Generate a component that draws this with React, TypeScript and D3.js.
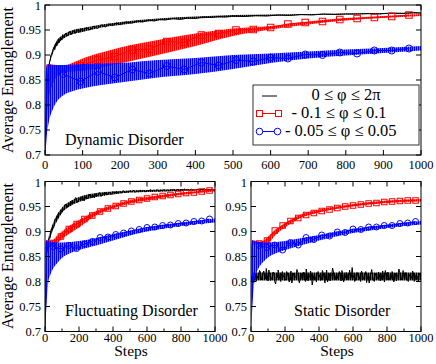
import React from 'react';
import * as d3 from 'd3';

// shared x grid for the envelopes, and marker positions
const BAND_STEPS = [0, 2, 5, 10, 20, 30, 50, 75, 100, 150, 200, 300, 400, 500, 600, 700, 800, 900, 1000];
const MARK_STEPS = [48, 94, 140, 186, 232, 278, 324, 370, 416, 462, 508, 554, 600, 646, 692, 738, 784, 830, 876, 922, 968];

const Y_TICKS = [0.7, 0.75, 0.8, 0.85, 0.9, 0.95, 1];
const Y_TICK_LABELS = ['0.7', '0.75', '0.8', '0.85', '0.9', '0.95', '1'];
const TOP_X_TICKS = [0, 100, 200, 300, 400, 500, 600, 700, 800, 900, 1000];
const BOTTOM_X_TICKS = [0, 200, 400, 600, 800, 1000];
const BOTTOM_X_MINOR = [100, 300, 500, 700, 900];

const LEGEND_LABELS = ['0 ≤ φ ≤ 2π', '- 0.1 ≤ φ ≤ 0.1', '- 0.05 ≤ φ ≤ 0.05'];

// ---- Dynamic disorder ----
const dynBlack: [number, number][] = [
  [0, 0.70], [2, 0.77], [4, 0.81], [6, 0.84], [8, 0.862], [10, 0.874], [12, 0.886], [14, 0.89], [16, 0.899],
  [18, 0.903], [20, 0.906], [23, 0.915], [26, 0.911], [29, 0.924], [32, 0.919], [35, 0.931], [38, 0.925],
  [41, 0.936], [44, 0.93], [47, 0.941], [50, 0.935], [55, 0.944], [60, 0.938], [65, 0.947], [70, 0.941],
  [75, 0.949], [80, 0.943], [85, 0.951], [90, 0.945], [95, 0.953], [100, 0.948], [110, 0.955], [120, 0.95],
  [130, 0.958], [140, 0.953], [150, 0.96], [160, 0.956], [170, 0.962], [180, 0.959], [190, 0.964], [200, 0.961],
  [215, 0.966], [230, 0.964], [245, 0.968], [260, 0.966], [275, 0.97], [290, 0.968], [305, 0.971], [320, 0.97],
  [340, 0.973], [360, 0.971], [380, 0.974], [400, 0.973], [420, 0.976], [440, 0.975], [460, 0.977], [480, 0.976],
  [500, 0.978], [530, 0.977], [560, 0.979], [590, 0.978], [620, 0.98], [650, 0.979], [680, 0.981], [710, 0.98],
  [740, 0.982], [770, 0.981], [800, 0.982], [830, 0.982], [860, 0.983], [890, 0.982], [920, 0.984], [950, 0.983],
  [980, 0.985], [1000, 0.984],
];
const dynBlackLo = [0.70, 0.765, 0.825, 0.87, 0.901, 0.917, 0.933, 0.942, 0.946, 0.955, 0.96, 0.969, 0.973, 0.976, 0.978, 0.98, 0.981, 0.982, 0.983];
const dynBlackHi = [0.70, 0.775, 0.835, 0.878, 0.91, 0.927, 0.941, 0.95, 0.954, 0.961, 0.966, 0.973, 0.977, 0.98, 0.981, 0.982, 0.983, 0.984, 0.985];
const dynRedLo = [0.70, 0.72, 0.77, 0.81, 0.84, 0.855, 0.865, 0.867, 0.868, 0.875, 0.883, 0.9, 0.918, 0.938, 0.951, 0.961, 0.969, 0.974, 0.978];
const dynRedHi = [0.70, 0.86, 0.882, 0.882, 0.881, 0.88, 0.879, 0.885, 0.893, 0.905, 0.915, 0.93, 0.943, 0.953, 0.958, 0.967, 0.974, 0.978, 0.982];
const dynRedMarks = [0.872, 0.878, 0.89, 0.897, 0.91, 0.912, 0.927, 0.925, 0.94, 0.943, 0.95, 0.951, 0.955, 0.962, 0.965, 0.967, 0.971, 0.973, 0.975, 0.977, 0.98];
const dynBlueLo = [0.70, 0.71, 0.74, 0.765, 0.79, 0.805, 0.82, 0.828, 0.833, 0.84, 0.845, 0.855, 0.862, 0.872, 0.884, 0.893, 0.899, 0.904, 0.909];
const dynBlueHi = [0.70, 0.86, 0.88, 0.881, 0.88, 0.88, 0.88, 0.881, 0.882, 0.883, 0.884, 0.89, 0.894, 0.9, 0.903, 0.907, 0.911, 0.914, 0.918];
const dynBlueMarks = [0.862, 0.847, 0.867, 0.855, 0.871, 0.863, 0.878, 0.871, 0.885, 0.879, 0.89, 0.887, 0.895, 0.893, 0.901, 0.9, 0.905, 0.903, 0.909, 0.909, 0.913];

// ---- Fluctuating disorder ----
const NOISE_STEPS = d3.range(0, 1001, 10);
const flucBlack = [
  0.700, 0.855, 0.884, 0.889, 0.907, 0.907, 0.925, 0.925, 0.938, 0.933,
  0.944, 0.943, 0.955, 0.948, 0.957, 0.951, 0.962, 0.957, 0.968, 0.958,
  0.966, 0.962, 0.971, 0.961, 0.970, 0.965, 0.975, 0.967, 0.974, 0.967,
  0.976, 0.971, 0.978, 0.970, 0.977, 0.972, 0.979, 0.973, 0.978, 0.974,
  0.980, 0.975, 0.981, 0.976, 0.980, 0.977, 0.982, 0.977, 0.981, 0.978,
  0.982, 0.979, 0.983, 0.978, 0.982, 0.979, 0.983, 0.980, 0.982, 0.979,
  0.983, 0.980, 0.984, 0.980, 0.983, 0.981, 0.984, 0.980, 0.983, 0.981,
  0.984, 0.981, 0.983, 0.981, 0.984, 0.982, 0.984, 0.981, 0.984, 0.982,
  0.984, 0.982, 0.985, 0.982, 0.984, 0.982, 0.985, 0.982, 0.984, 0.983,
  0.985, 0.982, 0.984, 0.983, 0.985, 0.982, 0.984, 0.983, 0.985, 0.982,
  0.984,
];
const flucBlackLo = [0.70, 0.75, 0.79, 0.845, 0.87, 0.885, 0.906, 0.923, 0.937, 0.951, 0.959, 0.969, 0.974, 0.978, 0.979, 0.98, 0.981, 0.982, 0.982];
const flucBlackHi = [0.70, 0.77, 0.81, 0.862, 0.886, 0.9, 0.919, 0.936, 0.948, 0.961, 0.969, 0.977, 0.98, 0.982, 0.983, 0.984, 0.985, 0.985, 0.985];
const flucRedLo = [0.70, 0.75, 0.84, 0.862, 0.868, 0.868, 0.87, 0.877, 0.885, 0.897, 0.908, 0.932, 0.946, 0.956, 0.962, 0.968, 0.973, 0.977, 0.98];
const flucRedHi = [0.70, 0.86, 0.882, 0.883, 0.882, 0.881, 0.884, 0.893, 0.9, 0.913, 0.923, 0.941, 0.953, 0.963, 0.969, 0.974, 0.978, 0.981, 0.985];
const flucRedMarks = [0.877, 0.89, 0.905, 0.915, 0.925, 0.932, 0.94, 0.946, 0.951, 0.956, 0.96, 0.963, 0.966, 0.969, 0.971, 0.973, 0.975, 0.977, 0.978, 0.98, 0.982];
const flucBlueLo = [0.70, 0.71, 0.73, 0.76, 0.80, 0.812, 0.827, 0.838, 0.847, 0.857, 0.863, 0.872, 0.882, 0.892, 0.9, 0.906, 0.911, 0.915, 0.918];
const flucBlueHi = [0.70, 0.86, 0.88, 0.882, 0.881, 0.88, 0.879, 0.878, 0.878, 0.879, 0.881, 0.887, 0.895, 0.902, 0.909, 0.914, 0.918, 0.922, 0.926];
const flucBlueMarks = [0.87, 0.865, 0.872, 0.866, 0.875, 0.88, 0.888, 0.889, 0.894, 0.897, 0.901, 0.904, 0.908, 0.909, 0.912, 0.913, 0.916, 0.917, 0.92, 0.921, 0.925];

// ---- Static disorder ----
const statBlack = [
  0.800,
  0.805, 0.818, 0.800, 0.812, 0.822, 0.803, 0.815, 0.808, 0.826, 0.801,
  0.814, 0.806, 0.819, 0.799, 0.811, 0.823, 0.804, 0.816, 0.809, 0.802,
  0.820, 0.807, 0.813, 0.797, 0.817, 0.810, 0.824, 0.803, 0.812, 0.806,
  0.819, 0.800, 0.815, 0.808, 0.821, 0.793, 0.813, 0.805, 0.818, 0.809,
  0.802, 0.822, 0.807, 0.814, 0.799, 0.816, 0.811, 0.827, 0.804, 0.812,
  0.806, 0.820, 0.801, 0.815, 0.809, 0.818, 0.803, 0.823, 0.808, 0.813,
  0.800, 0.817, 0.810, 0.805, 0.821, 0.807, 0.814, 0.798, 0.816, 0.811,
  0.824, 0.804, 0.812, 0.806, 0.819, 0.801, 0.815, 0.809, 0.822, 0.803,
  0.813, 0.807, 0.820, 0.799, 0.816, 0.810, 0.825, 0.805, 0.812, 0.808,
  0.818, 0.802, 0.814, 0.806, 0.821, 0.800, 0.813, 0.809, 0.817, 0.804,
];
// readings between the 10-step samples (steps 5, 15, ..., 995)
const statBlackMid = [
  0.811, 0.798, 0.816, 0.806, 0.803, 0.819, 0.809, 0.821, 0.805, 0.813,
  0.823, 0.802, 0.809, 0.817, 0.795, 0.807, 0.814, 0.800, 0.820, 0.811,
  0.806, 0.815, 0.799, 0.821, 0.804, 0.812, 0.808, 0.818, 0.797, 0.816,
  0.804, 0.812, 0.825, 0.801, 0.809, 0.815, 0.802, 0.811, 0.799, 0.820,
  0.813, 0.805, 0.817, 0.797, 0.823, 0.806, 0.801, 0.814, 0.819, 0.803,
  0.816, 0.808, 0.812, 0.822, 0.799, 0.807, 0.815, 0.805, 0.811, 0.828,
  0.808, 0.803, 0.818, 0.812, 0.800, 0.816, 0.804, 0.820, 0.807, 0.797,
  0.815, 0.810, 0.800, 0.817, 0.806, 0.813, 0.803, 0.821, 0.799, 0.812,
  0.819, 0.804, 0.806, 0.815, 0.809, 0.801, 0.813, 0.819, 0.803, 0.822,
  0.806, 0.815, 0.800, 0.811, 0.807, 0.818, 0.803, 0.812, 0.799, 0.814,
];
const statBlackLo = [0.81, 0.81, 0.805, 0.802, 0.802, 0.802, 0.802, 0.802, 0.802, 0.802, 0.802, 0.802, 0.802, 0.802, 0.802, 0.802, 0.802, 0.802, 0.802];
const statBlackHi = [0.81, 0.81, 0.815, 0.818, 0.818, 0.818, 0.818, 0.818, 0.818, 0.818, 0.818, 0.818, 0.818, 0.818, 0.818, 0.818, 0.818, 0.818, 0.818];
const statRedLo = [0.70, 0.75, 0.84, 0.87, 0.874, 0.874, 0.873, 0.872, 0.876, 0.895, 0.908, 0.928, 0.938, 0.945, 0.95, 0.954, 0.957, 0.959, 0.96];
const statRedHi = [0.70, 0.86, 0.882, 0.883, 0.882, 0.881, 0.88, 0.882, 0.89, 0.905, 0.917, 0.935, 0.944, 0.95, 0.955, 0.959, 0.962, 0.964, 0.965];
const statRedMarks = [0.876, 0.882, 0.902, 0.912, 0.921, 0.927, 0.933, 0.937, 0.941, 0.944, 0.947, 0.95, 0.952, 0.954, 0.956, 0.957, 0.959, 0.96, 0.961, 0.962, 0.962];
const statBlueLo = [0.70, 0.71, 0.73, 0.76, 0.80, 0.815, 0.83, 0.84, 0.848, 0.857, 0.863, 0.873, 0.882, 0.89, 0.897, 0.902, 0.907, 0.911, 0.914];
const statBlueHi = [0.70, 0.86, 0.88, 0.882, 0.881, 0.88, 0.879, 0.878, 0.878, 0.879, 0.881, 0.887, 0.893, 0.9, 0.905, 0.91, 0.914, 0.918, 0.921];
const statBlueMarks = [0.872, 0.868, 0.873, 0.863, 0.878, 0.873, 0.888, 0.884, 0.893, 0.891, 0.899, 0.898, 0.905, 0.904, 0.909, 0.909, 0.912, 0.912, 0.916, 0.917, 0.92];

const RED = '#ff0000';
const BLUE = '#0000ff';
const FONT = 'Liberation Serif, DejaVu Serif, serif';

const interleave = (a: number[], b: number[]): [number, number][] =>
  NOISE_STEPS.flatMap((s, i) =>
    i < b.length ? [[s, a[i]], [s + 5, b[i]]] as [number, number][] : [[s, a[i]]] as [number, number][]);

type PanelProps = {
  id: string;
  x0: number; x1: number; y0: number; y1: number;
  black: [number, number][]; blackLo: number[]; blackHi: number[];
  redLo: number[]; redHi: number[]; redMarks: number[];
  blueLo: number[]; blueHi: number[]; blueMarks: number[];
  title: string; titleX: number; titleY: number;
  xTicks: number[]; xMinor: number[]; labelGap: number;
  sq: number; r: number;
};

function Panel(p: PanelProps) {
  const x = d3.scaleLinear().domain([0, 1000]).range([p.x0, p.x1]);
  const y = d3.scaleLinear().domain([0.7, 1]).range([p.y1, p.y0]);
  const line = d3.line<[number, number]>().x(d => x(d[0])).y(d => y(d[1]));
  const band = (lo: number[], hi: number[]) =>
    d3.area<number>()
      .x((_, i) => x(BAND_STEPS[i]))
      .y0((_, i) => y(lo[i]))
      .y1((_, i) => y(hi[i]))
      .curve(d3.curveMonotoneX)(lo) || '';
  const markLine = (vals: number[]) => line(MARK_STEPS.map((s, i) => [s, vals[i]] as [number, number])) || '';

  return (
    <g>
      <defs>
        <clipPath id={`clip-${p.id}`}>
          <rect x={p.x0} y={p.y0} width={p.x1 - p.x0} height={p.y1 - p.y0} />
        </clipPath>
      </defs>
      <g clipPath={`url(#clip-${p.id})`}>
        <path d={band(p.blackLo, p.blackHi)} fill="url(#hatch-black)" />
        <path d={line(p.black) || ''} fill="none" stroke="#000" strokeWidth={1} />
        <path d={band(p.redLo, p.redHi)} fill="url(#hatch-red)" />
        <path d={markLine(p.redMarks)} fill="none" stroke={RED} strokeWidth={1} />
        {MARK_STEPS.map((s, i) => (
          <rect key={'r' + i} x={x(s) - p.sq / 2} y={y(p.redMarks[i]) - p.sq / 2} width={p.sq} height={p.sq}
            fill="none" stroke={RED} strokeWidth={1} />
        ))}
        <path d={band(p.blueLo, p.blueHi)} fill="url(#hatch-blue)" />
        <path d={markLine(p.blueMarks)} fill="none" stroke={BLUE} strokeWidth={1} />
        {MARK_STEPS.map((s, i) => (
          <circle key={'b' + i} cx={x(s)} cy={y(p.blueMarks[i])} r={p.r} fill="none" stroke={BLUE} strokeWidth={1} />
        ))}
      </g>
      <rect x={p.x0} y={p.y0} width={p.x1 - p.x0} height={p.y1 - p.y0} fill="none" stroke="#000" strokeWidth={1} />
      {Y_TICKS.map((t, i) => (
        <g key={'y' + i}>
          <line x1={p.x0} x2={p.x0 + 5} y1={y(t)} y2={y(t)} stroke="#000" />
          <line x1={p.x1} x2={p.x1 - 5} y1={y(t)} y2={y(t)} stroke="#000" />
          <text x={p.x0 - 4} y={y(t) + (t === 1 ? 1 : 0)} dy="0.35em" textAnchor="end" fontSize={12.5}>{Y_TICK_LABELS[i]}</text>
        </g>
      ))}
      {p.xTicks.map((t, i) => (
        <g key={'x' + i}>
          <line x1={x(t)} x2={x(t)} y1={p.y1} y2={p.y1 - 5} stroke="#000" />
          <line x1={x(t)} x2={x(t)} y1={p.y0} y2={p.y0 + 5} stroke="#000" />
          <text x={x(t)} y={p.y1 + p.labelGap} textAnchor="middle" fontSize={12.5}>{t}</text>
        </g>
      ))}
      {p.xMinor.map((t, i) => (
        <g key={'m' + i}>
          <line x1={x(t)} x2={x(t)} y1={p.y1} y2={p.y1 - 3} stroke="#000" />
          <line x1={x(t)} x2={x(t)} y1={p.y0} y2={p.y0 + 3} stroke="#000" />
        </g>
      ))}
      <text x={p.titleX} y={p.titleY} fontSize={16}>{p.title}</text>
    </g>
  );
}

function Legend() {
  const left = 253, top = 85, w = 166, h = 60;
  const rows = [100, 118, 136];
  const textX = [311.5, 291.5, 285];
  return (
    <g>
      <rect x={left} y={top} width={w} height={h} fill="#fff" stroke="#333" strokeWidth={1} />
      <line x1={262} x2={277} y1={96} y2={96} stroke="#000" strokeWidth={1} />
      <line x1={259} x2={279} y1={113.5} y2={113.5} stroke={RED} strokeWidth={1} />
      <rect x={256.5} y={110.5} width={6} height={6} fill="#fff" stroke={RED} />
      <rect x={275.5} y={110.5} width={6} height={6} fill="#fff" stroke={RED} />
      <line x1={259} x2={278} y1={131.5} y2={131.5} stroke={BLUE} strokeWidth={1} />
      <circle cx={259.5} cy={131.5} r={3.3} fill="#fff" stroke={BLUE} />
      <circle cx={277.5} cy={131.5} r={3.3} fill="#fff" stroke={BLUE} />
      {LEGEND_LABELS.map((l, i) => (
        <text key={i} x={textX[i]} y={rows[i]} fontSize={16.5}>{l}</text>
      ))}
    </g>
  );
}

export default function App() {
  return (
    <svg width={436} height={364}
      style={{ position: 'absolute', left: 0, top: 0, background: '#fff', fontFamily: FONT }}>
      <defs>
        <pattern id="hatch-red" width={2} height={4} patternUnits="userSpaceOnUse">
          <rect width={2} height={4} fill={RED} opacity={0.6} />
          <rect width={1.2} height={4} fill={RED} />
        </pattern>
        <pattern id="hatch-blue" width={2} height={4} patternUnits="userSpaceOnUse">
          <rect width={2} height={4} fill={BLUE} opacity={0.45} />
          <rect width={1.2} height={4} fill={BLUE} />
        </pattern>
        <pattern id="hatch-black" width={2} height={4} patternUnits="userSpaceOnUse">
          <rect width={2} height={4} fill="#000" opacity={0.55} />
          <rect width={1.1} height={4} fill="#000" />
        </pattern>
      </defs>
      <Panel id="dyn" x0={45} x1={421} y0={5} y1={155}
        black={dynBlack} blackLo={dynBlackLo} blackHi={dynBlackHi}
        redLo={dynRedLo} redHi={dynRedHi} redMarks={dynRedMarks}
        blueLo={dynBlueLo} blueHi={dynBlueHi} blueMarks={dynBlueMarks}
        title="Dynamic Disorder" titleX={65} titleY={145}
        xTicks={TOP_X_TICKS} xMinor={[]} labelGap={13.5} sq={6.5} r={3.5} />
      <Legend />
      <Panel id="fluc" x0={45} x1={215} y0={181.5} y1={331.5}
        black={NOISE_STEPS.map((s, i) => [s, flucBlack[i]] as [number, number])}
        blackLo={flucBlackLo} blackHi={flucBlackHi}
        redLo={flucRedLo} redHi={flucRedHi} redMarks={flucRedMarks}
        blueLo={flucBlueLo} blueHi={flucBlueHi} blueMarks={flucBlueMarks}
        title="Fluctuating Disorder" titleX={65} titleY={316}
        xTicks={BOTTOM_X_TICKS} xMinor={BOTTOM_X_MINOR} labelGap={10} sq={5.5} r={3} />
      <Panel id="stat" x0={251} x1={421} y0={181.5} y1={331.5}
        black={interleave(statBlack, statBlackMid)}
        blackLo={statBlackLo} blackHi={statBlackHi}
        redLo={statRedLo} redHi={statRedHi} redMarks={statRedMarks}
        blueLo={statBlueLo} blueHi={statBlueHi} blueMarks={statBlueMarks}
        title="Static Disorder" titleX={294} titleY={316}
        xTicks={BOTTOM_X_TICKS} xMinor={BOTTOM_X_MINOR} labelGap={10} sq={5.5} r={3} />
      <text transform="translate(12.5,80) rotate(-90)" textAnchor="middle" fontSize={16}>Average Entanglement</text>
      <text transform="translate(12.5,256) rotate(-90)" textAnchor="middle" fontSize={16}>Average Entanglement</text>
      <text x={131} y={356} textAnchor="middle" fontSize={15.5}>Steps</text>
      <text x={337} y={356} textAnchor="middle" fontSize={15.5}>Steps</text>
    </svg>
  );
}
